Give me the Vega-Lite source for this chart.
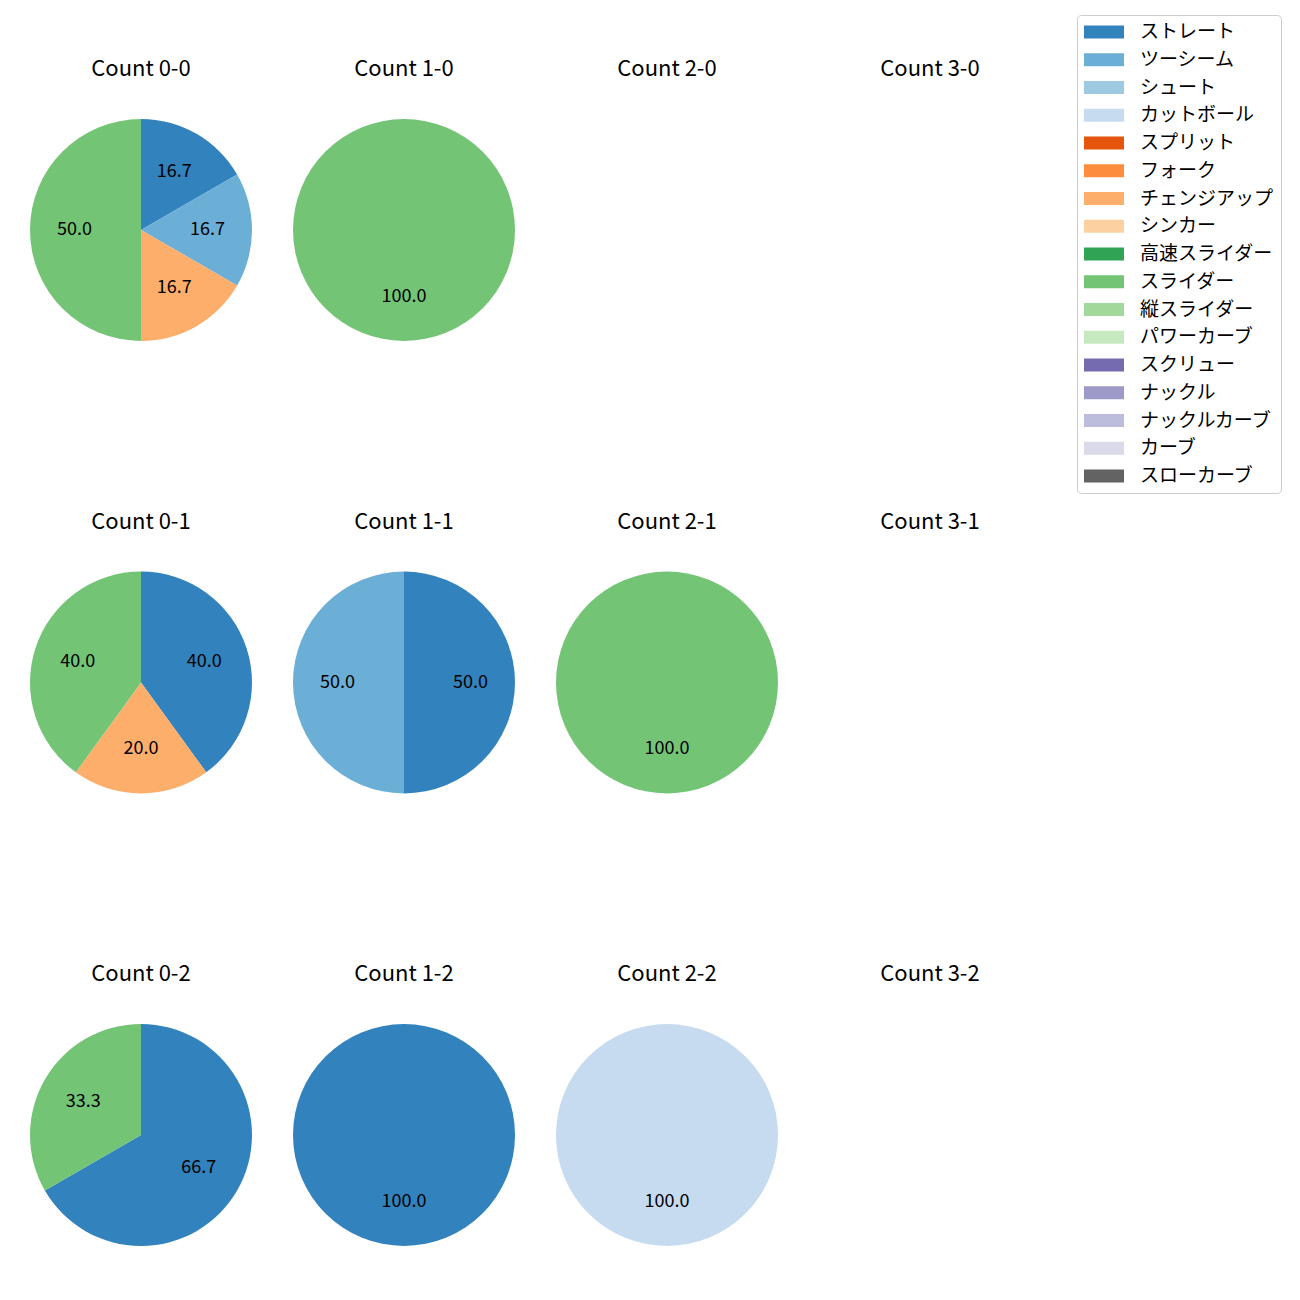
{
  "$schema": "https://vega.github.io/schema/vega-lite/v6.json",
  "padding": {"left": 30, "top": 14, "right": 10, "bottom": 10},
  "background": "white",
  "data": {"values": [
    {"count": "0-0", "pitch": "ストレート", "n": 1, "pct": 16.7, "o": 0},
    {"count": "0-0", "pitch": "ツーシーム", "n": 1, "pct": 16.7, "o": 1},
    {"count": "0-0", "pitch": "チェンジアップ", "n": 1, "pct": 16.7, "o": 6},
    {"count": "0-0", "pitch": "スライダー", "n": 3, "pct": 50.0, "o": 9},
    {"count": "1-0", "pitch": "スライダー", "n": 1, "pct": 100.0, "o": 9},
    {"count": "0-1", "pitch": "ストレート", "n": 2, "pct": 40.0, "o": 0},
    {"count": "0-1", "pitch": "チェンジアップ", "n": 1, "pct": 20.0, "o": 6},
    {"count": "0-1", "pitch": "スライダー", "n": 2, "pct": 40.0, "o": 9},
    {"count": "1-1", "pitch": "ストレート", "n": 1, "pct": 50.0, "o": 0},
    {"count": "1-1", "pitch": "ツーシーム", "n": 1, "pct": 50.0, "o": 1},
    {"count": "2-1", "pitch": "スライダー", "n": 1, "pct": 100.0, "o": 9},
    {"count": "0-2", "pitch": "ストレート", "n": 2, "pct": 66.7, "o": 0},
    {"count": "0-2", "pitch": "スライダー", "n": 1, "pct": 33.3, "o": 9},
    {"count": "1-2", "pitch": "ストレート", "n": 1, "pct": 100.0, "o": 0},
    {"count": "2-2", "pitch": "カットボール", "n": 1, "pct": 100.0, "o": 3}
  ]},
  "columns": 4,
  "spacing": {"column": 41, "row": 169.5},
  "concat": [
    {"title": "Count 0-0", "width": 222, "height": 222, "transform": [{"filter": "datum.count === '0-0'"}], "encoding": {"theta": {"field": "n", "type": "quantitative", "stack": "normalize"}, "order": {"field": "o", "type": "quantitative"}}, "layer": [{"mark": {"type": "arc"}, "encoding": {"color": {"field": "pitch", "type": "nominal", "scale": {"domain": ["ストレート", "ツーシーム", "シュート", "カットボール", "スプリット", "フォーク", "チェンジアップ", "シンカー", "高速スライダー", "スライダー", "縦スライダー", "パワーカーブ", "スクリュー", "ナックル", "ナックルカーブ", "カーブ", "スローカーブ"], "range": ["#3182bd", "#6baed6", "#9ecae1", "#c6dbef", "#e6550d", "#fd8d3c", "#fdae6b", "#fdd0a2", "#31a354", "#74c476", "#a1d99b", "#c7e9c0", "#756bb1", "#9e9ac8", "#bcbddc", "#dadaeb", "#636363"]}}}}, {"mark": {"type": "text", "radius": 66.6, "fontSize": 18, "font": "Noto Sans CJK JP", "color": "black"}, "encoding": {"detail": {"field": "pitch"}, "text": {"field": "pct", "type": "quantitative", "format": ".1f"}}}]},
    {"title": "Count 1-0", "width": 222, "height": 222, "transform": [{"filter": "datum.count === '1-0'"}], "encoding": {"theta": {"field": "n", "type": "quantitative", "stack": "normalize"}, "order": {"field": "o", "type": "quantitative"}}, "layer": [{"mark": {"type": "arc"}, "encoding": {"color": {"field": "pitch", "type": "nominal", "scale": {"domain": ["ストレート", "ツーシーム", "シュート", "カットボール", "スプリット", "フォーク", "チェンジアップ", "シンカー", "高速スライダー", "スライダー", "縦スライダー", "パワーカーブ", "スクリュー", "ナックル", "ナックルカーブ", "カーブ", "スローカーブ"], "range": ["#3182bd", "#6baed6", "#9ecae1", "#c6dbef", "#e6550d", "#fd8d3c", "#fdae6b", "#fdd0a2", "#31a354", "#74c476", "#a1d99b", "#c7e9c0", "#756bb1", "#9e9ac8", "#bcbddc", "#dadaeb", "#636363"]}}}}, {"mark": {"type": "text", "radius": 66.6, "fontSize": 18, "font": "Noto Sans CJK JP", "color": "black"}, "encoding": {"detail": {"field": "pitch"}, "text": {"field": "pct", "type": "quantitative", "format": ".1f"}}}]},
    {"title": "Count 2-0", "width": 222, "height": 222, "transform": [{"filter": "datum.count === '2-0'"}], "encoding": {"theta": {"field": "n", "type": "quantitative", "stack": "normalize"}, "order": {"field": "o", "type": "quantitative"}}, "layer": [{"mark": {"type": "arc"}, "encoding": {"color": {"field": "pitch", "type": "nominal", "scale": {"domain": ["ストレート", "ツーシーム", "シュート", "カットボール", "スプリット", "フォーク", "チェンジアップ", "シンカー", "高速スライダー", "スライダー", "縦スライダー", "パワーカーブ", "スクリュー", "ナックル", "ナックルカーブ", "カーブ", "スローカーブ"], "range": ["#3182bd", "#6baed6", "#9ecae1", "#c6dbef", "#e6550d", "#fd8d3c", "#fdae6b", "#fdd0a2", "#31a354", "#74c476", "#a1d99b", "#c7e9c0", "#756bb1", "#9e9ac8", "#bcbddc", "#dadaeb", "#636363"]}}}}, {"mark": {"type": "text", "radius": 66.6, "fontSize": 18, "font": "Noto Sans CJK JP", "color": "black"}, "encoding": {"detail": {"field": "pitch"}, "text": {"field": "pct", "type": "quantitative", "format": ".1f"}}}]},
    {"title": "Count 3-0", "width": 222, "height": 222, "transform": [{"filter": "datum.count === '3-0'"}], "encoding": {"theta": {"field": "n", "type": "quantitative", "stack": "normalize"}, "order": {"field": "o", "type": "quantitative"}}, "layer": [{"mark": {"type": "arc"}, "encoding": {"color": {"field": "pitch", "type": "nominal", "scale": {"domain": ["ストレート", "ツーシーム", "シュート", "カットボール", "スプリット", "フォーク", "チェンジアップ", "シンカー", "高速スライダー", "スライダー", "縦スライダー", "パワーカーブ", "スクリュー", "ナックル", "ナックルカーブ", "カーブ", "スローカーブ"], "range": ["#3182bd", "#6baed6", "#9ecae1", "#c6dbef", "#e6550d", "#fd8d3c", "#fdae6b", "#fdd0a2", "#31a354", "#74c476", "#a1d99b", "#c7e9c0", "#756bb1", "#9e9ac8", "#bcbddc", "#dadaeb", "#636363"]}}}}, {"mark": {"type": "text", "radius": 66.6, "fontSize": 18, "font": "Noto Sans CJK JP", "color": "black"}, "encoding": {"detail": {"field": "pitch"}, "text": {"field": "pct", "type": "quantitative", "format": ".1f"}}}]},
    {"title": "Count 0-1", "width": 222, "height": 222, "transform": [{"filter": "datum.count === '0-1'"}], "encoding": {"theta": {"field": "n", "type": "quantitative", "stack": "normalize"}, "order": {"field": "o", "type": "quantitative"}}, "layer": [{"mark": {"type": "arc"}, "encoding": {"color": {"field": "pitch", "type": "nominal", "scale": {"domain": ["ストレート", "ツーシーム", "シュート", "カットボール", "スプリット", "フォーク", "チェンジアップ", "シンカー", "高速スライダー", "スライダー", "縦スライダー", "パワーカーブ", "スクリュー", "ナックル", "ナックルカーブ", "カーブ", "スローカーブ"], "range": ["#3182bd", "#6baed6", "#9ecae1", "#c6dbef", "#e6550d", "#fd8d3c", "#fdae6b", "#fdd0a2", "#31a354", "#74c476", "#a1d99b", "#c7e9c0", "#756bb1", "#9e9ac8", "#bcbddc", "#dadaeb", "#636363"]}}}}, {"mark": {"type": "text", "radius": 66.6, "fontSize": 18, "font": "Noto Sans CJK JP", "color": "black"}, "encoding": {"detail": {"field": "pitch"}, "text": {"field": "pct", "type": "quantitative", "format": ".1f"}}}]},
    {"title": "Count 1-1", "width": 222, "height": 222, "transform": [{"filter": "datum.count === '1-1'"}], "encoding": {"theta": {"field": "n", "type": "quantitative", "stack": "normalize"}, "order": {"field": "o", "type": "quantitative"}}, "layer": [{"mark": {"type": "arc"}, "encoding": {"color": {"field": "pitch", "type": "nominal", "scale": {"domain": ["ストレート", "ツーシーム", "シュート", "カットボール", "スプリット", "フォーク", "チェンジアップ", "シンカー", "高速スライダー", "スライダー", "縦スライダー", "パワーカーブ", "スクリュー", "ナックル", "ナックルカーブ", "カーブ", "スローカーブ"], "range": ["#3182bd", "#6baed6", "#9ecae1", "#c6dbef", "#e6550d", "#fd8d3c", "#fdae6b", "#fdd0a2", "#31a354", "#74c476", "#a1d99b", "#c7e9c0", "#756bb1", "#9e9ac8", "#bcbddc", "#dadaeb", "#636363"]}}}}, {"mark": {"type": "text", "radius": 66.6, "fontSize": 18, "font": "Noto Sans CJK JP", "color": "black"}, "encoding": {"detail": {"field": "pitch"}, "text": {"field": "pct", "type": "quantitative", "format": ".1f"}}}]},
    {"title": "Count 2-1", "width": 222, "height": 222, "transform": [{"filter": "datum.count === '2-1'"}], "encoding": {"theta": {"field": "n", "type": "quantitative", "stack": "normalize"}, "order": {"field": "o", "type": "quantitative"}}, "layer": [{"mark": {"type": "arc"}, "encoding": {"color": {"field": "pitch", "type": "nominal", "scale": {"domain": ["ストレート", "ツーシーム", "シュート", "カットボール", "スプリット", "フォーク", "チェンジアップ", "シンカー", "高速スライダー", "スライダー", "縦スライダー", "パワーカーブ", "スクリュー", "ナックル", "ナックルカーブ", "カーブ", "スローカーブ"], "range": ["#3182bd", "#6baed6", "#9ecae1", "#c6dbef", "#e6550d", "#fd8d3c", "#fdae6b", "#fdd0a2", "#31a354", "#74c476", "#a1d99b", "#c7e9c0", "#756bb1", "#9e9ac8", "#bcbddc", "#dadaeb", "#636363"]}}}}, {"mark": {"type": "text", "radius": 66.6, "fontSize": 18, "font": "Noto Sans CJK JP", "color": "black"}, "encoding": {"detail": {"field": "pitch"}, "text": {"field": "pct", "type": "quantitative", "format": ".1f"}}}]},
    {"title": "Count 3-1", "width": 222, "height": 222, "transform": [{"filter": "datum.count === '3-1'"}], "encoding": {"theta": {"field": "n", "type": "quantitative", "stack": "normalize"}, "order": {"field": "o", "type": "quantitative"}}, "layer": [{"mark": {"type": "arc"}, "encoding": {"color": {"field": "pitch", "type": "nominal", "scale": {"domain": ["ストレート", "ツーシーム", "シュート", "カットボール", "スプリット", "フォーク", "チェンジアップ", "シンカー", "高速スライダー", "スライダー", "縦スライダー", "パワーカーブ", "スクリュー", "ナックル", "ナックルカーブ", "カーブ", "スローカーブ"], "range": ["#3182bd", "#6baed6", "#9ecae1", "#c6dbef", "#e6550d", "#fd8d3c", "#fdae6b", "#fdd0a2", "#31a354", "#74c476", "#a1d99b", "#c7e9c0", "#756bb1", "#9e9ac8", "#bcbddc", "#dadaeb", "#636363"]}}}}, {"mark": {"type": "text", "radius": 66.6, "fontSize": 18, "font": "Noto Sans CJK JP", "color": "black"}, "encoding": {"detail": {"field": "pitch"}, "text": {"field": "pct", "type": "quantitative", "format": ".1f"}}}]},
    {"title": "Count 0-2", "width": 222, "height": 222, "transform": [{"filter": "datum.count === '0-2'"}], "encoding": {"theta": {"field": "n", "type": "quantitative", "stack": "normalize"}, "order": {"field": "o", "type": "quantitative"}}, "layer": [{"mark": {"type": "arc"}, "encoding": {"color": {"field": "pitch", "type": "nominal", "scale": {"domain": ["ストレート", "ツーシーム", "シュート", "カットボール", "スプリット", "フォーク", "チェンジアップ", "シンカー", "高速スライダー", "スライダー", "縦スライダー", "パワーカーブ", "スクリュー", "ナックル", "ナックルカーブ", "カーブ", "スローカーブ"], "range": ["#3182bd", "#6baed6", "#9ecae1", "#c6dbef", "#e6550d", "#fd8d3c", "#fdae6b", "#fdd0a2", "#31a354", "#74c476", "#a1d99b", "#c7e9c0", "#756bb1", "#9e9ac8", "#bcbddc", "#dadaeb", "#636363"]}}}}, {"mark": {"type": "text", "radius": 66.6, "fontSize": 18, "font": "Noto Sans CJK JP", "color": "black"}, "encoding": {"detail": {"field": "pitch"}, "text": {"field": "pct", "type": "quantitative", "format": ".1f"}}}]},
    {"title": "Count 1-2", "width": 222, "height": 222, "transform": [{"filter": "datum.count === '1-2'"}], "encoding": {"theta": {"field": "n", "type": "quantitative", "stack": "normalize"}, "order": {"field": "o", "type": "quantitative"}}, "layer": [{"mark": {"type": "arc"}, "encoding": {"color": {"field": "pitch", "type": "nominal", "scale": {"domain": ["ストレート", "ツーシーム", "シュート", "カットボール", "スプリット", "フォーク", "チェンジアップ", "シンカー", "高速スライダー", "スライダー", "縦スライダー", "パワーカーブ", "スクリュー", "ナックル", "ナックルカーブ", "カーブ", "スローカーブ"], "range": ["#3182bd", "#6baed6", "#9ecae1", "#c6dbef", "#e6550d", "#fd8d3c", "#fdae6b", "#fdd0a2", "#31a354", "#74c476", "#a1d99b", "#c7e9c0", "#756bb1", "#9e9ac8", "#bcbddc", "#dadaeb", "#636363"]}}}}, {"mark": {"type": "text", "radius": 66.6, "fontSize": 18, "font": "Noto Sans CJK JP", "color": "black"}, "encoding": {"detail": {"field": "pitch"}, "text": {"field": "pct", "type": "quantitative", "format": ".1f"}}}]},
    {"title": "Count 2-2", "width": 222, "height": 222, "transform": [{"filter": "datum.count === '2-2'"}], "encoding": {"theta": {"field": "n", "type": "quantitative", "stack": "normalize"}, "order": {"field": "o", "type": "quantitative"}}, "layer": [{"mark": {"type": "arc"}, "encoding": {"color": {"field": "pitch", "type": "nominal", "scale": {"domain": ["ストレート", "ツーシーム", "シュート", "カットボール", "スプリット", "フォーク", "チェンジアップ", "シンカー", "高速スライダー", "スライダー", "縦スライダー", "パワーカーブ", "スクリュー", "ナックル", "ナックルカーブ", "カーブ", "スローカーブ"], "range": ["#3182bd", "#6baed6", "#9ecae1", "#c6dbef", "#e6550d", "#fd8d3c", "#fdae6b", "#fdd0a2", "#31a354", "#74c476", "#a1d99b", "#c7e9c0", "#756bb1", "#9e9ac8", "#bcbddc", "#dadaeb", "#636363"]}}}}, {"mark": {"type": "text", "radius": 66.6, "fontSize": 18, "font": "Noto Sans CJK JP", "color": "black"}, "encoding": {"detail": {"field": "pitch"}, "text": {"field": "pct", "type": "quantitative", "format": ".1f"}}}]},
    {"title": "Count 3-2", "width": 222, "height": 222, "transform": [{"filter": "datum.count === '3-2'"}], "encoding": {"theta": {"field": "n", "type": "quantitative", "stack": "normalize"}, "order": {"field": "o", "type": "quantitative"}}, "layer": [{"mark": {"type": "arc"}, "encoding": {"color": {"field": "pitch", "type": "nominal", "scale": {"domain": ["ストレート", "ツーシーム", "シュート", "カットボール", "スプリット", "フォーク", "チェンジアップ", "シンカー", "高速スライダー", "スライダー", "縦スライダー", "パワーカーブ", "スクリュー", "ナックル", "ナックルカーブ", "カーブ", "スローカーブ"], "range": ["#3182bd", "#6baed6", "#9ecae1", "#c6dbef", "#e6550d", "#fd8d3c", "#fdae6b", "#fdd0a2", "#31a354", "#74c476", "#a1d99b", "#c7e9c0", "#756bb1", "#9e9ac8", "#bcbddc", "#dadaeb", "#636363"]}}}}, {"mark": {"type": "text", "radius": 66.6, "fontSize": 18, "font": "Noto Sans CJK JP", "color": "black"}, "encoding": {"detail": {"field": "pitch"}, "text": {"field": "pct", "type": "quantitative", "format": ".1f"}}}]}
  ],
  "resolve": {"scale": {"color": "shared"}},
  "config": {
    "view": {"stroke": null},
    "font": "Noto Sans CJK JP",
    "title": {"fontSize": 22, "fontWeight": "normal", "font": "Noto Sans CJK JP", "offset": 38, "color": "black"},
    "legend": {
      "orient": "none", "legendX": 1047, "legendY": -104,
      "title": null,
      "strokeColor": "#cccccc", "cornerRadius": 4, "fillColor": "white", "padding": 7,
      "symbolType": "M-2,-0.66L2,-0.66L2,0.66L-2,0.66Z", "symbolSize": 400, "symbolStrokeWidth": 0, "symbolOffset": 10,
      "labelFontSize": 19, "labelFont": "Noto Sans CJK JP", "labelColor": "black", "labelOffset": 26, "rowPadding": 7.75, "labelLimit": 300
    }
  }
}
